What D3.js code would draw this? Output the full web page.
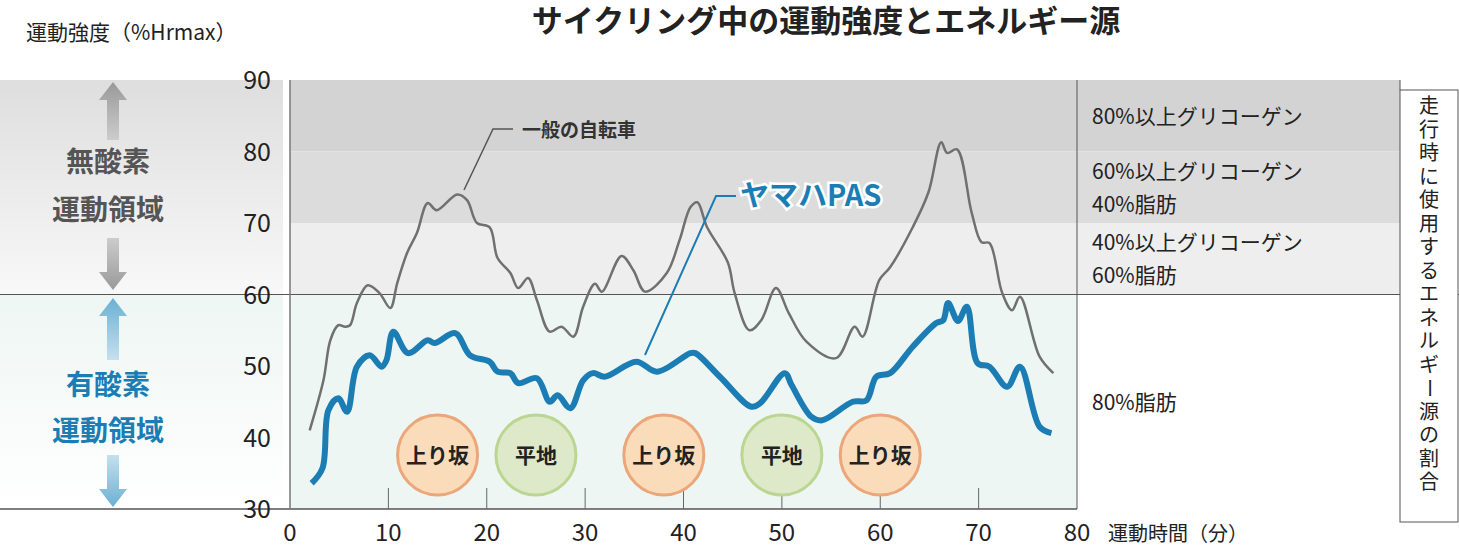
<!DOCTYPE html>
<html>
<head>
<meta charset="utf-8">
<script src="https://d3js.org/d3.v7.min.js"></script>
<style>
body { margin: 0; background: #fff; }
text { font-family: "Noto Sans CJK JP", "Noto Sans", sans-serif; }
</style>
</head>
<body>
<svg id="chart" width="1459" height="549"></svg>
<script>
// data
var generalX = [2.0,3.4,4.1,4.9,5.6,6.1,6.8,7.9,9.1,10.2,10.9,11.9,12.9,14.0,14.9,17.0,18.0,19.0,20.3,21.1,22.4,23.2,24.2,25.1,26.4,27.6,28.8,29.8,31.0,31.7,33.7,34.9,36.1,38.3,39.6,40.7,41.4,42.4,44.5,45.2,46.7,47.9,49.4,50.7,52.5,55.5,57.4,58.2,59.9,61.0,63.3,64.9,66.2,66.8,67.8,69.3,70.3,71.1,72.4,73.4,74.2,76.2,77.6];
var generalY = [41.0,48.0,53.6,55.7,55.5,55.7,58.8,61.3,60.2,58.1,61.6,65.8,68.6,72.8,71.8,74.0,73.2,70.0,69.4,65.1,63.0,60.9,62.3,59.2,54.8,55.5,54.1,58.3,61.5,60.4,65.4,63.4,60.4,63.0,67.6,72.2,72.9,69.4,64.5,60.2,55.0,56.4,60.9,57.4,53.4,51.1,55.5,54.1,62.0,63.8,69.4,74.3,81.3,79.8,80.3,71.4,67.3,67.2,60.2,57.8,59.7,51.3,49.0];
var pasX = [2.2,3.3,3.9,4.9,5.8,6.8,8.1,9.3,9.8,10.5,12.0,14.0,14.7,16.8,18.3,20.3,21.1,22.4,23.2,25.1,26.4,27.2,28.5,29.8,30.8,32.0,35.2,37.3,40.7,41.2,43.7,46.9,47.8,50.3,51.0,53.0,54.1,57.2,58.6,59.6,61.0,63.3,65.7,66.4,66.9,67.9,68.8,69.9,71.1,72.9,74.2,76.2,77.4];
var pasY = [33.6,35.7,43.8,45.5,43.6,49.9,51.5,49.9,50.8,54.8,51.8,53.6,53.2,54.6,51.5,50.6,49.2,49.0,47.6,48.3,45.0,45.9,44.1,48.0,49.0,48.5,50.6,49.2,51.8,51.8,48.5,44.3,44.8,49.0,47.3,42.9,42.4,45.0,45.2,48.5,49.0,52.7,56.0,56.4,58.8,56.3,58.3,50.4,49.9,47.1,49.9,41.5,40.6];
var yTicks = [30,40,50,60,70,80,90];
var xTicks = [0,10,20,30,40,50,60,70,80];
var terrainX = [15,25,38,50,60];
var terrainLabels = ["上り坂","平地","上り坂","平地","上り坂"];
var bandLabels = [
  {y0:80, y1:90, lines:["80%以上グリコーゲン"]},
  {y0:70, y1:80, lines:["60%以上グリコーゲン","40%脂肪"]},
  {y0:60, y1:70, lines:["40%以上グリコーゲン","60%脂肪"]},
  {y0:30, y1:60, lines:["80%脂肪"]}
];

var svg = d3.select("#chart");
var x = d3.scaleLinear().domain([0,80]).range([290,1077]);
var y = d3.scaleLinear().domain([30,90]).range([509,80]);
var blue = "#1b7db3";

var defs = svg.append("defs");
function grad(id, stops) {
  var g = defs.append("linearGradient").attr("id",id).attr("x1",0).attr("y1",0).attr("x2",0).attr("y2",1);
  stops.forEach(function(s){ g.append("stop").attr("offset",s[0]).attr("stop-color",s[1]); });
}
grad("lg1", [["0%","#dedede"],["100%","#f8f8f8"]]);
grad("lg2", [["0%","#eef6f3"],["100%","#ffffff"]]);
grad("ga", [["0%","#999"],["100%","#ccc"]]);
grad("ga2", [["0%","#ccc"],["100%","#999"]]);
grad("gb", [["0%","#6bb0d3"],["100%","#c5e0ee"]]);
grad("gb2", [["0%","#c5e0ee"],["100%","#6bb0d3"]]);

// left panel
svg.append("rect").attr("x",0).attr("y",y(90)).attr("width",283).attr("height",y(60)-y(90)).attr("fill","url(#lg1)");
svg.append("rect").attr("x",0).attr("y",y(60)).attr("width",283).attr("height",y(30)-y(60)).attr("fill","url(#lg2)");

// bands
var bands = [[80,90,"#d3d3d3"],[70,80,"#dcdcdc"],[60,70,"#eeeeee"]];
bands.forEach(function(b){
  svg.append("rect").attr("x",x(0)).attr("y",y(b[1])).attr("width",1400-x(0)).attr("height",y(b[0])-y(b[1])).attr("fill",b[2]);
});
svg.append("rect").attr("x",x(0)).attr("y",y(60)).attr("width",x(80)-x(0)).attr("height",y(30)-y(60)).attr("fill","#eef6f3");

// arrows (split around the labels)
function arrowHalf(yTip, yEnd, fill) {
  var cx = 113, dir = yEnd > yTip ? 1 : -1, p = d3.path();
  p.moveTo(cx, yTip); p.lineTo(cx+14, yTip+18*dir); p.lineTo(cx+6, yTip+18*dir);
  p.lineTo(cx+6, yEnd); p.lineTo(cx-6, yEnd); p.lineTo(cx-6, yTip+18*dir);
  p.lineTo(cx-14, yTip+18*dir); p.closePath();
  svg.append("path").attr("d", p.toString()).attr("fill", fill);
}
arrowHalf(82, 140, "url(#ga)");
arrowHalf(290, 238, "url(#ga2)");
arrowHalf(298, 360, "url(#gb)");
arrowHalf(507, 455, "url(#gb2)");
[["無酸素",172],["運動領域",220]].forEach(function(d){
  svg.append("text").attr("x",108).attr("y",d[1]).attr("text-anchor","middle").attr("font-size",28).attr("font-weight","bold").attr("fill","#555").text(d[0]);
});
[["有酸素",395],["運動領域",441]].forEach(function(d){
  svg.append("text").attr("x",108).attr("y",d[1]).attr("text-anchor","middle").attr("font-size",28).attr("font-weight","bold").attr("fill",blue).text(d[0]);
});

// lines
svg.append("line").attr("x1",0).attr("x2",1459).attr("y1",y(60)).attr("y2",y(60)).attr("stroke","#555").attr("stroke-width",1);
svg.append("line").attr("x1",0).attr("x2",x(80)).attr("y1",y(30)).attr("y2",y(30)).attr("stroke","#555").attr("stroke-width",1.5);
svg.append("line").attr("x1",x(0)).attr("x2",x(0)).attr("y1",y(90)).attr("y2",y(30)).attr("stroke","#777").attr("stroke-width",1.5);
svg.append("line").attr("x1",x(80)).attr("x2",x(80)).attr("y1",y(90)).attr("y2",y(30)).attr("stroke","#555");
svg.append("rect").attr("x",1400).attr("y",y(90)+10).attr("width",58).attr("height",432).attr("fill","#fff").attr("stroke","#555");
svg.append("line").attr("x1",1400).attr("x2",1400).attr("y1",y(90)).attr("y2",y(90)+10).attr("stroke","#555");

svg.selectAll(".xt").data(xTicks.slice(1,8)).enter().append("line")
  .attr("x1",function(d){return x(d);}).attr("x2",function(d){return x(d);})
  .attr("y1",y(30)-21).attr("y2",y(30)).attr("stroke","#666");

// axes labels
svg.selectAll(".yl").data(yTicks).enter().append("text")
  .attr("x",271).attr("y",function(d){return y(d)+9;}).attr("text-anchor","end")
  .attr("font-size",25).attr("fill","#222").attr("font-family","Roboto, sans-serif").text(function(d){return d;});
svg.selectAll(".xl").data(xTicks).enter().append("text")
  .attr("x",function(d){return x(d);}).attr("y",541).attr("text-anchor","middle")
  .attr("font-size",24).attr("fill","#222").attr("font-family","Roboto, sans-serif").text(function(d){return d;});
svg.append("text").attr("x",1108).attr("y",541).attr("font-size",20).attr("fill","#222").text("運動時間（分）");
svg.append("text").attr("x",26).attr("y",40).attr("font-size",21).attr("fill","#222").text("運動強度（%Hrmax）");
svg.append("text").attr("x",826).attr("y",32).attr("text-anchor","middle").attr("font-size",31).attr("font-weight","bold").attr("fill","#222").text("サイクリング中の運動強度とエネルギー源");

// band labels
bandLabels.forEach(function(b){
  var cy = (y(b.y0)+y(b.y1))/2, n = b.lines.length;
  b.lines.forEach(function(t,i){
    svg.append("text").attr("x",1092).attr("y",cy + (i-(n-1)/2)*33 + 8)
      .attr("font-size",21).attr("fill","#222").text(t);
  });
});
// vertical text
var vt = "走行時に使用するエネルギー源の割合".split("");
svg.selectAll(".vt").data(vt).enter().append("text")
  .attr("x",1429).attr("y",function(d,i){return 113+i*23.5;}).attr("text-anchor","middle")
  .attr("font-size",20).attr("fill","#222")
  .attr("transform",function(d,i){return d==="ー"?"rotate(90,1429,"+(106+i*23.5)+")":null;})
  .text(function(d){return d;});

// terrain circles
terrainX.forEach(function(t,i){
  var up = terrainLabels[i]==="上り坂";
  svg.append("circle").attr("cx",x(t)).attr("cy",455).attr("r",40)
    .attr("fill",up?"#fadcbb":"#dde9c9").attr("stroke",up?"#eba679":"#bad690").attr("stroke-width",3);
  svg.append("text").attr("x",x(t)).attr("y",463).attr("text-anchor","middle")
    .attr("font-size",21).attr("font-weight","bold").attr("fill","#222").text(terrainLabels[i]);
});

var line = d3.line().curve(d3.curveCatmullRom.alpha(0.5)).x(function(d){return x(d[0]);}).y(function(d){return y(d[1]);});
svg.append("path").attr("d",line(d3.zip(generalX,generalY))).attr("fill","none").attr("stroke","#707070").attr("stroke-width",2.5);
svg.append("path").attr("d",line(d3.zip(pasX,pasY))).attr("fill","none").attr("stroke",blue).attr("stroke-width",6).attr("stroke-linejoin","round");

// callouts
svg.append("polyline").attr("points",[[464,190],[493,129],[513,129]].join(" ")).attr("fill","none").attr("stroke","#555").attr("stroke-width",1.5);
svg.append("text").attr("x",522).attr("y",137).attr("font-size",19).attr("font-weight","bold").attr("fill","#333").text("一般の自転車");
svg.append("polyline").attr("points",[[645,355],[716,196],[736,196]].join(" ")).attr("fill","none").attr("stroke",blue).attr("stroke-width",2);
svg.append("text").attr("x",740).attr("y",206).attr("font-size",29).attr("font-weight","bold").attr("fill",blue)
  .attr("stroke","#fff").attr("stroke-width",5).attr("paint-order","stroke").text("ヤマハPAS");
</script>
</body>
</html>
